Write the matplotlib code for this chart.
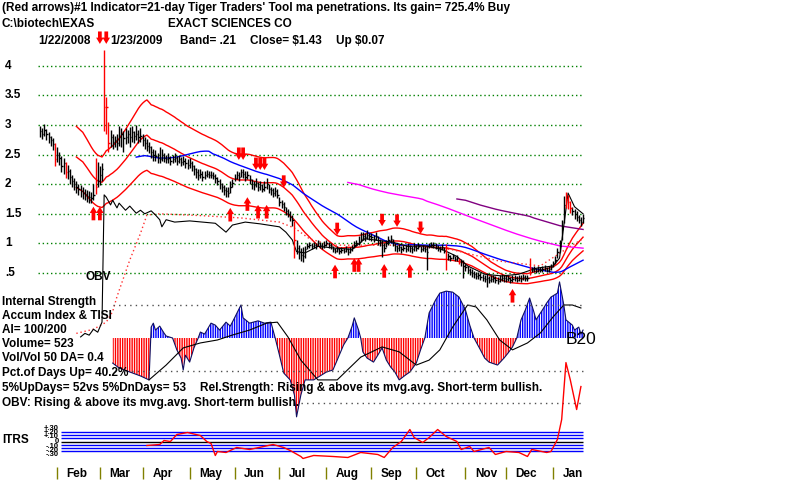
import matplotlib
matplotlib.use('Agg')
import matplotlib.pyplot as plt
import numpy as np
import pandas as pd

plt.rcParams['font.family'] = ['Liberation Sans', 'DejaVu Sans']

# daily bars, 1/22/2008 .. 1/23/2009, x = trading day number 0..254
close = [2.90, 2.85, 2.92, 2.84, 2.80, 2.74, 2.68, 2.42,  # jan
         2.50, 2.45, 2.30, 2.35, 2.20, 2.22, 2.12, 2.05, 2.00, 1.95, 1.92, 1.88, 1.85, 1.84, 1.80, 1.78, 1.76, 1.82, 1.95, 2.05,  # feb
         2.15, 2.25, 3.30, 3.30, 2.70, 2.80, 2.72, 2.75, 2.70, 2.80, 2.85, 2.78, 2.80, 2.85, 2.80, 2.88, 2.82, 2.85, 2.80, 2.82,  # mar
         2.75, 2.70, 2.65, 2.62, 2.55, 2.50, 2.48, 2.45, 2.42, 2.50, 2.45, 2.42, 2.44, 2.40, 2.42, 2.45, 2.40, 2.42, 2.38, 2.40, 2.35, 2.33,  # apr
         2.35, 2.30, 2.25, 2.20, 2.15, 2.18, 2.12, 2.15, 2.18, 2.15, 2.16, 2.14, 2.10, 2.05, 2.00, 1.95, 1.90, 1.88, 1.85, 1.95, 2.02,  # may
         2.10, 2.15, 2.12, 2.20, 2.18, 2.12, 2.15, 2.08, 2.00, 1.98, 2.02, 1.95, 1.98, 1.92, 1.95, 2.00, 1.92, 1.90, 1.85, 1.88, 1.82,  # jun
         1.70, 1.66, 1.62, 1.55, 1.50, 1.45, 1.40, 1.05, 0.92, 0.85, 0.80, 0.78, 0.90, 0.95, 0.97, 0.95, 0.98, 0.96, 1.00, 0.97, 0.95, 0.98,  # jul
         1.00, 0.98, 0.95, 0.90, 0.88, 0.90, 0.87, 0.89, 0.88, 0.90, 0.86, 0.89, 0.92, 0.98, 1.00, 1.02, 1.08, 1.12, 1.10, 1.15, 1.12,  # aug
         1.10, 1.08, 1.12, 1.05, 1.02, 0.98, 0.92, 1.00, 1.05, 1.08, 1.02, 0.95, 0.92, 0.94, 0.90, 0.93, 0.91, 0.95, 0.92, 0.90, 0.94,  # sep
         0.92, 0.95, 0.90, 0.93, 0.90, 0.85, 0.96, 0.98, 0.97, 0.95, 0.92, 0.90, 0.94, 0.88, 0.92, 0.78, 0.76, 0.78, 0.74, 0.76, 0.72, 0.70, 0.62,  # oct
         0.60, 0.55, 0.52, 0.50, 0.48, 0.45, 0.47, 0.44, 0.42, 0.40, 0.42, 0.38, 0.40, 0.41, 0.39, 0.37, 0.40, 0.42, 0.41,  # nov
         0.40, 0.42, 0.38, 0.40, 0.41, 0.39, 0.42, 0.40, 0.43, 0.42, 0.41, 0.58, 0.55, 0.56, 0.54, 0.57, 0.55, 0.56, 0.58, 0.55, 0.57, 0.60,  # dec
         0.65, 0.72, 0.85, 0.95, 1.25, 1.65, 1.75, 1.70, 1.60, 1.55, 1.50, 1.45, 1.40, 1.36, 1.43]  # jan 09
high = [2.98, 2.95, 3.02, 2.93, 2.88, 2.82, 2.78, 2.70,
        2.62, 2.55, 2.48, 2.45, 2.38, 2.32, 2.25, 2.15, 2.10, 2.05, 2.00, 1.98, 1.95, 1.92, 1.90, 1.88, 1.86, 2.00, 2.45, 2.38,
        2.30, 2.35, 4.27, 3.48, 3.05, 2.92, 2.85, 2.82, 2.85, 2.98, 2.95, 2.90, 2.95, 2.92, 2.96, 2.98, 2.90, 3.00, 2.92, 2.95,
        2.85, 2.80, 2.76, 2.72, 2.65, 2.60, 2.58, 2.52, 2.62, 2.60, 2.52, 2.50, 2.52, 2.48, 2.50, 2.53, 2.48, 2.50, 2.46, 2.48, 2.44, 2.42,
        2.44, 2.40, 2.32, 2.28, 2.25, 2.26, 2.22, 2.22, 2.24, 2.22, 2.22, 2.20, 2.18, 2.12, 2.08, 2.02, 1.98, 1.95, 1.95, 2.05, 2.08,
        2.18, 2.22, 2.20, 2.26, 2.25, 2.22, 2.22, 2.15, 2.08, 2.05, 2.10, 2.04, 2.05, 2.00, 2.05, 2.10, 2.00, 1.96, 1.94, 1.95, 1.92,
        1.78, 1.74, 1.70, 1.62, 1.58, 1.54, 1.48, 1.38, 1.06, 0.98, 0.92, 0.94, 0.96, 1.00, 1.02, 1.00, 1.03, 1.01, 1.05, 1.02, 1.00, 1.04,
        1.05, 1.03, 1.00, 0.95, 0.93, 0.95, 0.92, 0.94, 0.93, 0.95, 0.92, 0.94, 0.98, 1.04, 1.06, 1.12, 1.20, 1.20, 1.17, 1.22, 1.18,
        1.18, 1.15, 1.19, 1.12, 1.08, 1.06, 1.00, 1.06, 1.12, 1.14, 1.08, 1.00, 0.97, 0.99, 0.96, 0.98, 0.97, 1.00, 0.98, 0.96, 1.00,
        0.97, 1.00, 0.95, 0.98, 0.95, 0.97, 1.00, 1.03, 1.02, 1.00, 0.97, 0.95, 0.99, 0.94, 0.99, 0.84, 0.80, 0.82, 0.79, 0.80, 0.76, 0.74, 0.72,
        0.66, 0.62, 0.58, 0.56, 0.54, 0.52, 0.52, 0.50, 0.48, 0.46, 0.50, 0.45, 0.46, 0.47, 0.45, 0.44, 0.46, 0.48, 0.47,
        0.46, 0.47, 0.44, 0.46, 0.47, 0.45, 0.47, 0.46, 0.48, 0.47, 0.47, 0.75, 0.60, 0.61, 0.59, 0.62, 0.60, 0.61, 0.63, 0.60, 0.62, 0.66,
        0.70, 0.78, 0.92, 1.05, 1.40, 1.80, 1.86, 1.82, 1.72, 1.62, 1.58, 1.55, 1.48, 1.44, 1.50]
low = [2.80, 2.76, 2.82, 2.74, 2.70, 2.64, 2.58, 2.30,
       2.38, 2.32, 2.20, 2.18, 2.10, 2.08, 2.00, 1.95, 1.90, 1.85, 1.82, 1.78, 1.75, 1.74, 1.70, 1.68, 1.68, 1.74, 1.84, 1.95,
       1.98, 2.05, 2.90, 2.85, 2.55, 2.62, 2.60, 2.62, 2.58, 2.65, 2.62, 2.55, 2.68, 2.70, 2.62, 2.72, 2.70, 2.75, 2.70, 2.72,
       2.65, 2.60, 2.56, 2.52, 2.45, 2.40, 2.40, 2.36, 2.36, 2.40, 2.38, 2.35, 2.36, 2.33, 2.35, 2.38, 2.33, 2.35, 2.30, 2.32, 2.27, 2.25,
       2.27, 2.22, 2.15, 2.10, 2.07, 2.10, 2.05, 2.08, 2.12, 2.10, 2.10, 2.08, 2.02, 1.98, 1.92, 1.86, 1.82, 1.78, 1.78, 1.85, 1.96,
       2.05, 2.08, 2.05, 2.12, 2.10, 2.06, 2.08, 2.00, 1.92, 1.90, 1.95, 1.88, 1.90, 1.86, 1.88, 1.92, 1.85, 1.82, 1.78, 1.80, 1.76,
       1.64, 1.60, 1.55, 1.48, 1.44, 1.38, 1.30, 0.76, 0.82, 0.74, 0.70, 0.68, 0.76, 0.90, 0.92, 0.90, 0.93, 0.91, 0.95, 0.92, 0.90, 0.93,
       0.95, 0.93, 0.90, 0.85, 0.83, 0.85, 0.82, 0.84, 0.83, 0.85, 0.80, 0.84, 0.88, 0.93, 0.95, 0.98, 1.03, 1.06, 1.04, 1.08, 1.06,
       1.04, 1.02, 1.05, 0.98, 0.96, 0.77, 0.86, 0.94, 0.98, 1.00, 0.96, 0.88, 0.86, 0.88, 0.84, 0.87, 0.85, 0.88, 0.86, 0.84, 0.88,
       0.87, 0.90, 0.85, 0.88, 0.85, 0.55, 0.92, 0.94, 0.93, 0.90, 0.87, 0.85, 0.89, 0.83, 0.55, 0.72, 0.71, 0.73, 0.70, 0.71, 0.66, 0.62, 0.41,
       0.54, 0.50, 0.46, 0.44, 0.42, 0.40, 0.40, 0.38, 0.36, 0.34, 0.26, 0.33, 0.34, 0.35, 0.33, 0.32, 0.34, 0.36, 0.35,
       0.35, 0.36, 0.33, 0.35, 0.36, 0.34, 0.37, 0.35, 0.38, 0.37, 0.36, 0.47, 0.51, 0.52, 0.50, 0.52, 0.51, 0.52, 0.53, 0.51, 0.52, 0.55,
       0.60, 0.66, 0.76, 0.85, 1.05, 1.35, 1.60, 1.58, 1.52, 1.48, 1.42, 1.38, 1.34, 1.30, 1.34]
red_bars = [7, 12, 26, 30, 31, 32, 119, 190, 196, 229, 246, 247, 248]

month_days = [8, 28, 48, 70, 91, 112, 134, 155, 176, 199, 218, 240]
month_names = ['Feb', 'Mar', 'Apr', 'May', 'Jun', 'Jul', 'Aug', 'Sep', 'Oct', 'Nov', 'Dec', 'Jan']
price_levels = [4, 3.5, 3, 2.5, 2, 1.5, 1, 0.5]
price_labels = ['4', '3.5', '3', '2.5', '2', '1.5', '1', '.5']

# OBV (scaled onto price axis) and its moving average
obv_days = [19, 21, 23, 25, 27, 29, 30, 31, 33, 34, 36, 37, 40, 42, 45, 47, 49, 52, 54, 56, 57, 59, 63, 70, 76, 82, 87, 90,
            96, 103, 112, 115, 118, 120, 124, 130, 138, 146, 152, 158, 165, 172, 180, 188, 195, 200, 208, 216, 224, 232,
            240, 243, 245, 247, 250, 254]
obv_vals = [-0.58, -0.52, -0.55, -0.45, -0.50, -0.33, 1.82, 1.78, 1.65, 1.73, 1.60, 1.68, 1.56, 1.63, 1.51, 1.56, 1.50,
            1.55, 1.48, 1.40, 1.28, 1.40, 1.36, 1.38, 1.36, 1.34, 1.19, 1.31, 1.36, 1.33, 1.28, 1.19, 1.06, 0.86, 0.84,
            0.95, 0.92, 0.90, 1.08, 1.05, 1.02, 0.95, 0.96, 0.90, 0.78, 0.62, 0.48, 0.45, 0.48, 0.58, 0.62, 0.75, 1.30,
            1.85, 1.62, 1.50]
obv_ma_days = [17, 25, 31, 34, 36, 42, 47, 50, 56, 75, 94, 112, 119, 126, 136, 168, 192, 215, 234, 248, 254]
obv_ma_vals = [-0.52, -0.45, -0.33, -0.15, 0.10, 0.72, 1.17, 1.48, 1.50, 1.47, 1.43, 1.36, 1.26, 1.08, 0.97, 0.97, 0.90,
               0.70, 0.62, 0.95, 1.08]

# accumulation index and its moving average
ai_days = [34, 37, 42, 47, 51, 52, 53, 54, 56, 58, 59, 62, 64, 66, 67, 68, 70, 72, 74, 75, 77, 80, 82, 84, 87, 89, 91,
           94, 95, 98, 102, 105, 108, 110, 112, 114, 117, 119, 120, 122, 124, 128, 131, 134, 137, 139, 142, 144, 146,
           147, 149, 150, 151, 153, 156, 158, 160, 162, 164, 166, 168, 171, 173, 176, 178, 180, 182, 185, 187, 190, 193,
           196, 199, 201, 203, 206, 208, 210, 214, 217, 219, 221, 223, 225, 227, 229, 231, 232, 235, 237, 239, 242, 243,
           245, 246, 249, 250, 252, 253, 254]
ai_vals = [-0.76, -0.91, -1.03, -1.15, -1.27, 0.33, 0.45, 0.24, 0.36, 0.15, 0.06, 0.0, -0.36, -0.61, -0.97, -0.52, -0.73,
           -0.30, 0.0, 0.18, 0.12, 0.45, 0.39, 0.24, 0.48, 0.36, 0.61, 1.0, 0.61, 0.45, 0.52, 0.45, 0.48, 0.0, -0.52,
           -1.06, -1.27, -1.73, -2.39, -1.73, -1.27, -1.27, -1.15, -1.03, -0.97, -0.67, -0.21, 0.0, 0.36, 0.61, 0.24, 0.0,
           -0.42, -0.61, -0.73, -0.52, -0.30, -0.67, -0.88, -1.03, -1.27, -1.12, -1.03, -0.76, -0.36, 0.0, 0.76, 1.15,
           1.36, 1.42, 1.39, 1.24, 0.85, 0.39, 0.0, -0.36, -0.61, -0.73, -0.82, -0.61, -0.45, -0.27, 0.0, 0.55, 0.85, 1.21,
           0.79, 0.55, 0.85, 1.06, 1.24, 1.36, 1.70, 1.0, 0.55, 0.39, 0.24, 0.33, 0.12, 0.24]
ai_ma_days = [51, 59, 67, 75, 83, 90, 98, 106, 111, 116, 122, 130, 139, 150, 160, 168, 176, 182, 187, 193, 200, 204, 209,
              215, 221, 228, 234, 240, 245, 249, 253]
ai_ma_vals = [-1.27, -0.82, -0.30, -0.15, -0.06, 0.09, 0.24, 0.45, 0.48, 0.03, -0.67, -1.27, -1.27, -0.58, -0.27, -0.42,
              -0.82, -0.67, -0.36, 0.33, 1.0, 0.94, 0.55, -0.06, -0.36, -0.15, 0.15, 0.64, 1.0, 1.0, 0.91]

# ITRS (relative strength)
itrs_days = [50, 56, 58, 61, 64, 69, 75, 78, 80, 82, 83, 87, 92, 98, 109, 114, 117, 122, 123, 128, 137, 144, 150, 158,
             161, 165, 169, 173, 175, 179, 182, 186, 190, 195, 197, 201, 203, 210, 213, 218, 224, 228, 230, 237, 239,
             242, 244, 246, 248, 251, 253]
itrs_vals = [-0.12, -0.09, 0.03, 0.0, 0.21, 0.27, 0.18, 0.0, -0.06, -0.42, -0.30, -0.33, -0.18, -0.24, -0.09, -0.18,
             -0.27, -0.45, -0.51, -0.42, -0.45, -0.48, -0.33, -0.39, -0.48, -0.18, 0.0, 0.36, 0.12, -0.03, 0.12, 0.36,
             0.15, 0.0, -0.24, -0.15, -0.30, -0.18, -0.39, -0.30, -0.33, -0.45, -0.24, -0.33, -0.30, 0.06, 0.66, 2.37,
             1.86, 0.96, 1.65]
itrs_levels = [0.3, 0.2, 0.1, 0.0, -0.1, -0.2, -0.3]
itrs_labels = ['+.30', '+.20', '+.10', '0', '-.10', '-.20', '-.30']

# red arrows (tiger traders' tool ma penetrations)
buy_days = [25, 28, 89, 97, 102, 106, 138, 147, 149, 161, 173, 221]
buy_tops = [1.62, 1.62, 1.60, 1.78, 1.65, 1.65, 0.64, 0.75, 0.75, 0.65, 0.65, 0.23]
sell_days = [28, 31, 93, 95, 101, 103, 105, 114, 139, 160, 167, 178]
sell_tips = [4.37, 4.37, 2.41, 2.41, 2.24, 2.24, 2.24, 1.94, 1.14, 1.29, 1.28, 1.16]

band = 0.21

# ---- pixel layout of the old screen chart
W, H = 800, 480
x_left = -40 / 2.138
x_right = (W - 40) / 2.138


def fx(x):
    return x / W


def fy(y):
    return 1 - y / H


fig = plt.figure(figsize=(8, 4.8), dpi=100)
fig.patch.set_facecolor('white')

ax = fig.add_axes([0, 0, 1, 1])         # price panel
ax_ai = fig.add_axes([0, 0, 1, 1])      # accumulation index panel
ax_it = fig.add_axes([0, 0, 1, 1])      # ITRS panel
for a in (ax, ax_ai, ax_it):
    a.set_xlim(x_left, x_right)
    a.axis('off')
ax.set_ylim((302.6 - H) / 59.2, 302.6 / 59.2)
ax_ai.set_ylim((338 - H) / 33.0, 338 / 33.0)
ax_it.set_ylim((441.5 - H) / 33.3, 441.5 / 33.3)

days = np.arange(len(close))
cl = np.array(close)
colors = ['red' if d in red_bars else 'black' for d in days]

# green dotted grid
ax.hlines(price_levels, -1, 254, colors='#008000', linestyles=(0, (1, 2)), lw=1)
for lev, lab in zip(price_levels, price_labels):
    ax.text(x_left + 5 / 2.138, lev, lab, fontsize=8.5, fontweight='bold', va='center', ha='left')

# moving averages / bands
s = pd.Series(cl)
ma21 = s.rolling(21, min_periods=18).mean()
ma50 = s.rolling(50, min_periods=46).mean()
ma150 = s.rolling(150, min_periods=145).mean()
ma200 = s.rolling(200, min_periods=196).mean()
ax.plot(days, ma21 * (1 + band), color='red', lw=1)
ax.plot(days, ma21, color='red', lw=1)
ax.plot(days, ma21 * (1 - band), color='red', lw=1)
ax.plot(days, ma50, color='blue', lw=1)
ax.plot(days, ma150, color='#ff00ff', lw=1)
ax.plot(days, ma200, color='#800080', lw=1)

# OBV
ax.plot(obv_ma_days, obv_ma_vals, color='#ff3030', lw=1, linestyle=(0, (1, 2)))
ax.plot(obv_days, obv_vals, color='black', lw=0.8)

# price bars
ax.vlines(days, low, high, colors=colors, lw=1)
ax.hlines(cl, days, days + 0.6, colors=colors, lw=1)

# arrows
astyle = 'simple,head_length=0.5,head_width=0.6,tail_width=0.3'
aprops = dict(arrowstyle=astyle, color='red', mutation_scale=9, lw=0, shrinkA=0, shrinkB=0)
for d, top in zip(buy_days, buy_tops):
    ax.annotate('', xy=(d, top), xytext=(d, top - 0.23), arrowprops=aprops, annotation_clip=False)
for d, tip in zip(sell_days, sell_tips):
    ax.annotate('', xy=(d, tip), xytext=(d, tip + 0.21), arrowprops=aprops, annotation_clip=False)

# accumulation index histogram
ad = np.array(ai_days)
av = np.array(ai_vals)
ax_ai.fill_between(ad, 0, av, where=av >= 0, interpolate=True, facecolor='none',
                   edgecolor='blue', hatch='|' * 7, linewidth=0)
ax_ai.fill_between(ad, 0, av, where=av <= 0, interpolate=True, facecolor='none',
                   edgecolor='red', hatch='|' * 7, linewidth=0)
ax_ai.plot(ad, av, color='#101060', lw=0.8)
ax_ai.plot(ai_ma_days, ai_ma_vals, color='black', lw=0.8)
ax_ai.hlines([1.0, -1.0, -1.97], [34, 40, 122], 254, colors='#505050', linestyles=(0, (1, 3)), lw=1)

# ITRS
for lev in itrs_levels:
    ax_it.hlines(lev, 10, 254, colors='black' if lev == 0 else 'blue', lw=1.0)
ax_it.plot(itrs_days, itrs_vals, color='red', lw=1)
# the scale labels sit in one tight stack, as on the old screen
ax_it.text(x_left + 59 / 2.138, 0, '\n'.join(itrs_labels), fontsize=5.5, fontweight='bold',
           va='center', ha='right', linespacing=0.5)

# month axis
ax.vlines(month_days, (302.6 - 479) / 59.2, (302.6 - 467) / 59.2, colors='#808000', lw=1)
for d, m in zip(month_days, month_names):
    ax.text(d + 4.5, (302.6 - 474) / 59.2, m, fontsize=8.5, fontweight='bold', va='center', ha='left')

# header text
bold = dict(fontsize=8.5, fontweight='bold', va='center', ha='left')
fig.text(fx(2), fy(8), "(Red arrows)#1 Indicator=21-day Tiger Traders' Tool ma penetrations. Its gain= 725.4% Buy", **bold)
fig.text(fx(2), fy(24), "C:\\biotech\\EXAS", **bold)
fig.text(fx(168), fy(24), "EXACT SCIENCES CO", **bold)
fig.text(fx(38), fy(41), "1/22/2008", **bold)
fig.text(fx(110), fy(41), "1/23/2009", **bold)
fig.text(fx(180), fy(41), "Band= .21", **bold)
fig.text(fx(250), fy(41), "Close= $1.43", **bold)
fig.text(fx(336), fy(41), "Up $0.07", **bold)

# lower panel text
fig.text(fx(86), fy(277), "OBV", **bold)
fig.text(fx(2), fy(302), "Internal Strength", **bold)
fig.text(fx(2), fy(316), "Accum Index & TISI", **bold)
fig.text(fx(2), fy(330), "AI= 100/200", **bold)
fig.text(fx(2), fy(344), "Volume= 523", **bold)
fig.text(fx(2), fy(358), "Vol/Vol 50 DA= 0.4", **bold)
fig.text(fx(2), fy(373), "Pct.of Days Up= 40.2%", **bold)
fig.text(fx(2), fy(388), "5%UpDays= 52vs 5%DnDays= 53", **bold)
fig.text(fx(200), fy(388), "Rel.Strength: Rising & above its mvg.avg. Short-term bullish.", **bold)
fig.text(fx(2), fy(403), "OBV: Rising & above its mvg.avg. Short-term bullish.", **bold)
fig.text(fx(2), fy(440), "ITRS", **bold)
fig.text(fx(566), fy(339), "B20", fontsize=12.5, va='center', ha='left')

plt.savefig('out.png', dpi=100, facecolor='white')
